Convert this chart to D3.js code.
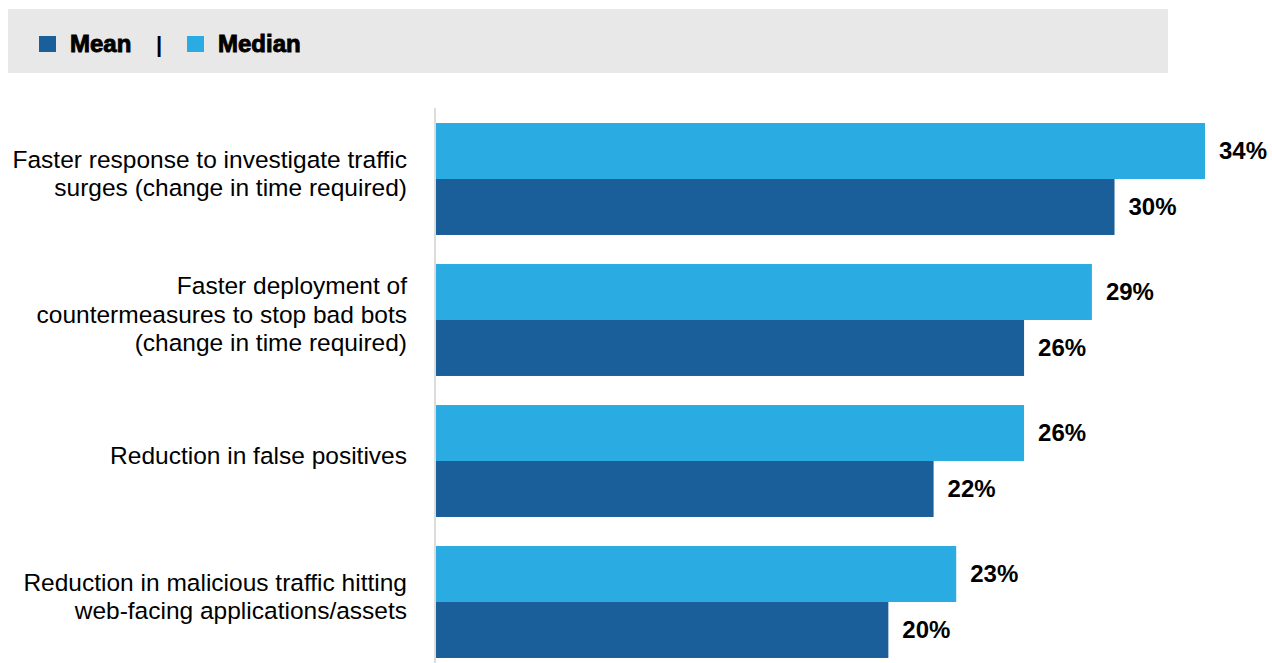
<!DOCTYPE html>
<html>
<head>
<meta charset="utf-8">
<script src="https://cdn.jsdelivr.net/npm/d3@7"></script>
<style>
  html, body { margin: 0; padding: 0; background: #fff; }
  svg { display: block; font-family: "Liberation Sans", Arial, Helvetica, sans-serif; }
</style>
</head>
<body>
<svg id="chart" width="1272" height="663"></svg>
<script>
// Categories (each may wrap onto several lines)
const categories = [
  ["Faster response to investigate traffic", "surges (change in time required)"],
  ["Faster deployment of", "countermeasures to stop bad bots", "(change in time required)"],
  ["Reduction in false positives"],
  ["Reduction in malicious traffic hitting", "web-facing applications/assets"]
];
const seriesNames = ["Median", "Mean"];
const medianValues = [34, 29, 26, 23];
const meanValues = [30, 26, 22, 20];
const legendOrder = ["Mean", "Median"];

const colors = { Mean: "#1A5E9A", Median: "#2AACE2" };

const svg = d3.select("#chart");
const W = 1272, H = 663;

// Legend band
svg.append("rect")
  .attr("x", 8).attr("y", 9)
  .attr("width", 1160).attr("height", 64)
  .attr("fill", "#E8E8E8");

const legend = svg.append("g");
const legendPos = { Mean: 39, Median: 187 };
legendOrder.forEach(name => {
  const x0 = legendPos[name];
  legend.append("rect")
    .attr("x", x0).attr("y", 36)
    .attr("width", 17).attr("height", 16)
    .attr("fill", colors[name]);
  legend.append("text")
    .attr("x", x0 + 31).attr("y", 52)
    .attr("font-size", 24).attr("font-weight", 700)
    .attr("fill", "#000")
    .attr("stroke", "#000").attr("stroke-width", 0.9)
    .text(name);
});
legend.append("text")
  .attr("x", 159).attr("y", 52)
  .attr("text-anchor", "middle")
  .attr("font-size", 22).attr("font-weight", 700)
  .text("|");

// Scales
const idx = d3.range(categories.length);
const y = d3.scaleBand()
  .domain(idx)
  .range([108.5, 672.5])
  .paddingInner(0.206)
  .paddingOuter(0.103);

const ySub = d3.scaleBand()
  .domain(seriesNames)
  .range([0, y.bandwidth()]);

const x = d3.scaleLinear()
  .domain([0, 34])
  .range([436, 1205]);

// Vertical baseline
svg.append("line")
  .attr("x1", 435).attr("x2", 435)
  .attr("y1", 108).attr("y2", H)
  .attr("stroke", "#DCDCDC").attr("stroke-width", 2);

const data = idx.map(i => ({
  i,
  values: [
    { name: "Median", v: medianValues[i] },
    { name: "Mean", v: meanValues[i] }
  ]
}));

const groups = svg.append("g").selectAll("g")
  .data(data).join("g")
  .attr("transform", d => `translate(0,${y(d.i)})`);

groups.selectAll("rect")
  .data(d => d.values).join("rect")
  .attr("x", x(0))
  .attr("y", d => ySub(d.name))
  .attr("width", d => x(d.v) - x(0))
  .attr("height", ySub.bandwidth())
  .attr("fill", d => colors[d.name]);

groups.selectAll("text.val")
  .data(d => d.values).join("text")
  .attr("class", "val")
  .attr("x", d => x(d.v) + 14)
  .attr("y", d => ySub(d.name) + ySub.bandwidth() / 2)
  .attr("dy", "0.35em")
  .attr("font-size", 24).attr("font-weight", 700)
  .attr("fill", "#000")
  .text(d => d.v + "%");

// Category labels, right-aligned next to the baseline
const lineH = 28.5;
groups.append("text")
  .attr("text-anchor", "end")
  .attr("font-size", 24.5)
  .attr("fill", "#000")
  .each(function(d) {
    const lines = categories[d.i];
    const t = d3.select(this);
    const mid = y.bandwidth() / 2;
    const first = mid - (lines.length - 1) * lineH / 2 + 3;
    lines.forEach((ln, k) => {
      t.append("tspan")
        .attr("x", 407)
        .attr("y", first + k * lineH)
        .text(ln);
    });
  });
</script>
</body>
</html>
